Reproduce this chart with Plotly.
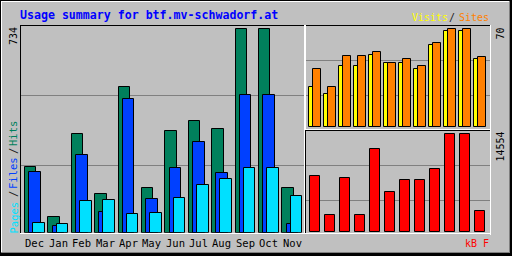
import plotly.graph_objects as go

# ---------------- data ----------------
months = ["Dec", "Jan", "Feb", "Mar", "Apr", "May", "Jun", "Jul", "Aug", "Sep", "Oct", "Nov"]
hits   = [236, 55, 355, 138, 525, 160, 366, 402, 373, 734, 734, 160]
files  = [218, 26, 279, 73, 481, 120, 232, 326, 214, 496, 496, 30]
pages  = [34, 30, 113, 117, 66, 70, 127, 171, 192, 232, 232, 131]
visits = [29, 24, 44, 44, 52, 46, 46, 42, 59, 69, 69, 49]
sites  = [42, 29, 51, 51, 54, 46, 49, 44, 60, 70, 70, 50]
kbytes = [8317, 2525, 8020, 2525, 12326, 5940, 7723, 7723, 9356, 14554, 14554, 3119]
title_text = "Usage summary for btf.mv-schwadorf.at"

# ---------------- styling ----------------
W, H = 512, 256
BG = "#C0C0C0"
GRID = "#808080"
C_HITS, C_FILES, C_PAGES = "#00805C", "#0040FF", "#00E0FF"
C_VISITS, C_SITES, C_KB = "#FFFF00", "#FF8000", "#FF0000"
MONO = "DejaVu Sans Mono"

def px(x):
    return x / W

def py(y):
    return 1 - y / H

idx = list(range(len(months)))
hmax = max(hits)
smax = max(sites)
kmax = max(kbytes)

def yaxis_for(base_px, max_px, top_px, vmax):
    # value 0 at base_px, vmax at max_px; domain extends up to top_px
    rng_top = vmax * (base_px - top_px) / (base_px - max_px)
    return [py(base_px), py(top_px)], [0, rng_top]

fig = go.Figure()
line = dict(color="black", width=1)

# main panel
fig.add_trace(go.Bar(x=idx, y=hits, width=0.49, offset=-0.421, marker=dict(color=C_HITS, line=line),
                     xaxis="x", yaxis="y", showlegend=False))
fig.add_trace(go.Bar(x=idx, y=files, width=0.49, offset=-0.237, marker=dict(color=C_FILES, line=line),
                     xaxis="x", yaxis="y", showlegend=False))
fig.add_trace(go.Bar(x=idx, y=pages, width=0.49, offset=-0.066, marker=dict(color=C_PAGES, line=line),
                     xaxis="x", yaxis="y", showlegend=False))
# top-right panel
fig.add_trace(go.Bar(x=idx, y=visits, width=0.5, offset=-0.38, marker=dict(color=C_VISITS, line=line),
                     xaxis="x2", yaxis="y2", showlegend=False))
fig.add_trace(go.Bar(x=idx, y=sites, width=0.493, offset=-0.113, marker=dict(color=C_SITES, line=line),
                     xaxis="x2", yaxis="y2", showlegend=False))
# bottom-right panel
fig.add_trace(go.Bar(x=idx, y=kbytes, width=0.627, offset=-0.313, marker=dict(color=C_KB, line=line),
                     xaxis="x3", yaxis="y3", showlegend=False))

axis_common = dict(showgrid=False, zeroline=False, showticklabels=False, ticks="", showline=False,
                   fixedrange=True)

shapes = []
def hline(y, x0, x1, color, layer="below"):
    shapes.append(dict(type="line", xref="paper", yref="paper", x0=px(x0), x1=px(x1),
                       y0=py(y), y1=py(y), line=dict(color=color, width=1), layer=layer))

def vline(x, y0, y1, color, layer="above"):
    shapes.append(dict(type="line", xref="paper", yref="paper", x0=px(x), x1=px(x),
                       y0=py(y0), y1=py(y1), line=dict(color=color, width=1), layer=layer))

# gridlines (below bars)
for gy in (95.5, 165.5):
    hline(gy, 20.5, 304.5, GRID)
for gy in (60.5, 95.5):
    hline(gy, 305.5, 490.5, GRID)
for gy in (165.5, 200.5):
    hline(gy, 305.5, 490.5, GRID)

# panel frames
hline(25.5, 20, 305, "black", "above")
vline(20.5, 25, 234, "black")
hline(233.5, 20, 305, "white", "above")
vline(304.5, 25, 234, "white")
hline(25.5, 305, 491, "black", "above")
vline(305.5, 25, 129, "white")
vline(490.5, 25, 130, "white")
hline(129.5, 305, 491, "white", "above")
hline(130.5, 305, 491, "black", "above")
vline(305.5, 130, 234, "black")
vline(490.5, 130, 235, "white")
hline(233.5, 305, 491, "white", "above")

# outer image border
hline(1.5, 1, 510, "white", "above")
vline(1.5, 1, 253, "white")
hline(252.5, 1, 510, "#808080", "above")
vline(509.5, 1, 253, "#808080")
hline(253.5, 0, 512, "black", "above")
hline(254.5, 0, 512, "black", "above")
vline(510.5, 0, 256, "black")
hline(0.5, 0, 512, "black", "above")
vline(0.5, 0, 256, "black")
hline(255.5, 0, 512, "black", "above")
vline(511.5, 0, 256, "black")

ann = []
def text(t, x, y, color, size=10, xanchor="center", angle=0, bold=False):
    ann.append(dict(text=("<b>%s</b>" % t) if bold else t, x=px(x), y=py(y), xref="paper", yref="paper",
                    showarrow=False, xanchor=xanchor, yanchor="middle", textangle=angle,
                    font=dict(family=MONO, size=size, color=color), borderpad=0))

text(title_text, 19, 15, "#0000FF", size=11.6, xanchor="left", bold=True)
text("Visits", 429.7, 17.5, C_VISITS)
text("/", 452, 17.5, "#202020")
text("Sites", 474.3, 17.5, C_SITES)
text(str(hmax), 13, 36, "black", angle=-90)
text("Pages", 13, 217.5, C_PAGES, size=10.5, angle=-90)
text("/", 13, 194, "#202020", size=10.5, angle=-90)
text("Files", 13, 173, C_FILES, size=10.5, angle=-90)
text("/", 13, 151, "#202020", size=10.5, angle=-90)
text("Hits", 13, 134, C_HITS, size=10.5, angle=-90)
text(str(smax), 500, 33.5, "black", angle=-90)
text(str(kmax), 500, 146.5, "black", angle=-90)
text("kB F", 490, 243, C_KB, xanchor="right")

for i, m in enumerate(months):
    ann.append(dict(text=m, x=i, y=py(242.5), xref="x", yref="paper", showarrow=False,
                    xanchor="center", yanchor="middle",
                    font=dict(family=MONO, size=10.5, color="black"), borderpad=0))

d1, r1 = yaxis_for(232.7, 29.3, 26, hmax)
d2, r2 = yaxis_for(127.3, 29.3, 26, smax)
d3, r3 = yaxis_for(232.3, 134.3, 131, kmax)

fig.update_layout(
    width=W, height=H,
    margin=dict(l=0, r=0, t=0, b=0, pad=0),
    paper_bgcolor=BG, plot_bgcolor="rgba(0,0,0,0)",
    barmode="overlay", bargap=0,
    xaxis=dict(domain=[px(20), px(305)], range=[-0.635, 11.55], **axis_common),
    yaxis=dict(domain=d1, range=r1, **axis_common),
    xaxis2=dict(domain=[px(305), px(490.7)], range=[-0.667, 11.713], anchor="y2", **axis_common),
    yaxis2=dict(domain=d2, range=r2, anchor="x2", **axis_common),
    xaxis3=dict(domain=[px(305), px(490.7)], range=[-0.667, 11.713], anchor="y3", **axis_common),
    yaxis3=dict(domain=d3, range=r3, anchor="x3", **axis_common),
    shapes=shapes,
    annotations=ann,
)

fig.write_html("out.html", config={"displayModeBar": False})
